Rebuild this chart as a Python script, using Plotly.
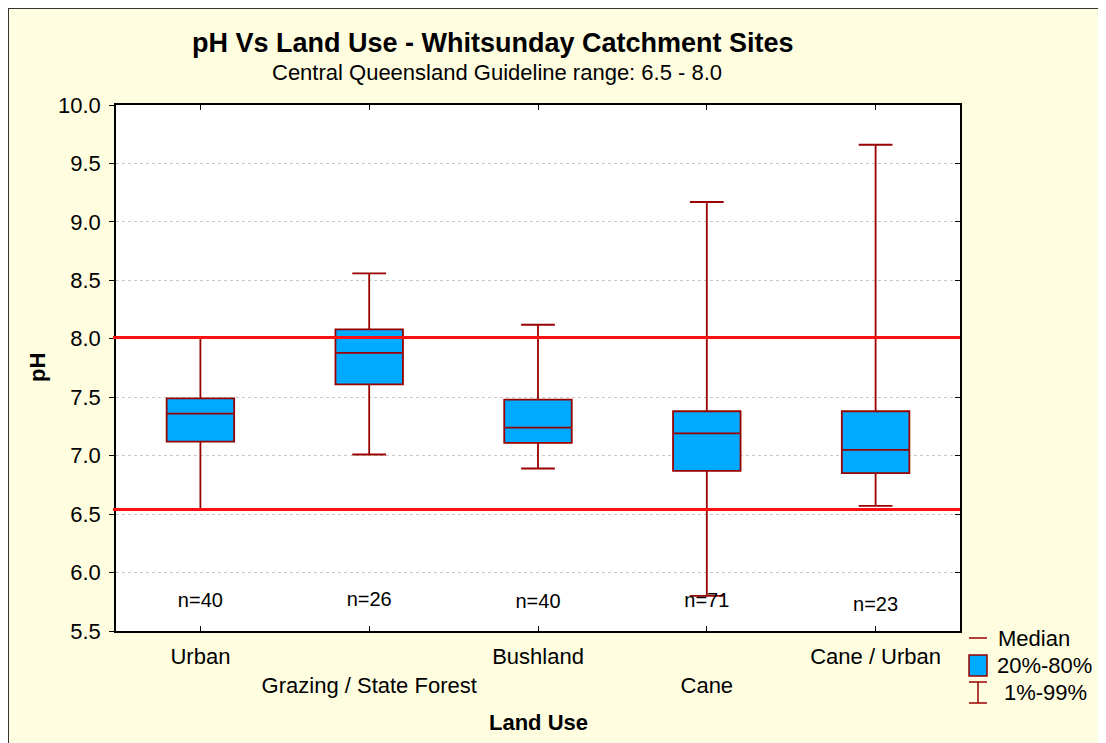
import plotly.graph_objects as go

# ---- data ----
categories = ["Urban", "Grazing / State Forest", "Bushland", "Cane", "Cane / Urban"]
p01 = [6.54, 7.01, 6.89, 5.80, 6.57]
p20 = [7.12, 7.61, 7.11, 6.87, 6.85]
median = [7.36, 7.88, 7.24, 7.19, 7.05]
p80 = [7.49, 8.08, 7.48, 7.38, 7.38]
p99 = [8.01, 8.56, 8.12, 9.17, 9.66]
n_counts = [40, 26, 40, 71, 23]
n_label_y = [5.75, 5.76, 5.74, 5.75, 5.71]
guideline_lines = [8.01, 6.54]
y_ticks = [5.5, 6.0, 6.5, 7.0, 7.5, 8.0, 8.5, 9.0, 9.5, 10.0]

PAGE_W, PAGE_H = 1106, 743
OFF = 8  # page body margin: reference pixel coords are page coords
W, H = PAGE_W - OFF, PAGE_H - OFF
L, R, T, B = 116, 960, 105, 631  # plot area in page pixels

FONT = "Liberation Sans, Arial, sans-serif"
BOX_LINE = "#990000"
BOX_FILL = "#00AAFF"
BG = "#FFFDE0"

def px(x):
    return (x - L) / (R - L)

def py(y):
    return (B - y) / (B - T)

xpos = list(range(len(categories)))
ticktext = [c if i % 2 == 0 else "<br>" + c for i, c in enumerate(categories)]

fig = go.Figure()

fig.add_trace(go.Box(
    x=xpos, q1=p20, median=median, q3=p80,
    lowerfence=p01, upperfence=p99,
    width=0.4, whiskerwidth=0.5,
    fillcolor=BOX_FILL,
    line=dict(color=BOX_LINE, width=1.8),
    boxpoints=False, showlegend=False, hoverinfo="skip",
))

fig.add_trace(go.Scatter(
    x=xpos, y=n_label_y, mode="text",
    text=[f"n={v}" for v in n_counts],
    textfont=dict(family=FONT, size=20, color="black"),
    showlegend=False, hoverinfo="skip",
))

# invisible trace to activate right-side tick axis
fig.add_trace(go.Scatter(x=[None], y=[None], yaxis="y2", showlegend=False, hoverinfo="skip"))

shapes = []
# figure border (left/top)
shapes.append(dict(type="line", xref="paper", yref="paper", x0=px(OFF), x1=px(PAGE_W), y0=py(OFF + 0.5), y1=py(OFF + 0.5),
                   line=dict(color="#333333", width=1)))
shapes.append(dict(type="line", xref="paper", yref="paper", x0=px(OFF + 0.5), x1=px(OFF + 0.5), y0=py(OFF), y1=py(PAGE_H),
                   line=dict(color="#333333", width=1)))

# guideline red lines
for g in guideline_lines:
    shapes.append(dict(type="line", xref="paper", yref="y", x0=px(113), x1=1, y0=g, y1=g,
                       line=dict(color="#FF1010", width=3), layer="above"))

# legend icons
shapes.append(dict(type="line", xref="paper", yref="paper", x0=px(969), x1=px(987), y0=py(638), y1=py(638),
                   line=dict(color=BOX_LINE, width=1.5)))
shapes.append(dict(type="rect", xref="paper", yref="paper", x0=px(969), x1=px(987), y0=py(655), y1=py(676),
                   fillcolor=BOX_FILL, line=dict(color=BOX_LINE, width=1.5)))
shapes.append(dict(type="line", xref="paper", yref="paper", x0=px(969), x1=px(987), y0=py(682), y1=py(682),
                   line=dict(color=BOX_LINE, width=1.5)))
shapes.append(dict(type="line", xref="paper", yref="paper", x0=px(969), x1=px(987), y0=py(703), y1=py(703),
                   line=dict(color=BOX_LINE, width=1.5)))
shapes.append(dict(type="line", xref="paper", yref="paper", x0=px(978), x1=px(978), y0=py(682), y1=py(703),
                   line=dict(color=BOX_LINE, width=1.5)))

annotations = [
    dict(text="<b>pH Vs Land Use - Whitsunday Catchment Sites</b>", x=px(493), y=py(43),
         font=dict(family=FONT, size=27, color="black")),
    dict(text="Central Queensland Guideline range: 6.5 - 8.0", x=px(497), y=py(72),
         font=dict(family=FONT, size=22, color="black")),
    dict(text="<b>Land Use</b>", x=px(538), y=py(722),
         font=dict(family=FONT, size=22, color="black")),
    dict(text="<b>pH</b>", x=px(37), y=py(368), textangle=-90,
         font=dict(family=FONT, size=22, color="black")),
    dict(text="Median", x=px(996), y=py(638), xanchor="left",
         font=dict(family=FONT, size=22, color="black")),
    dict(text="20%-80%", x=px(995), y=py(665), xanchor="left",
         font=dict(family=FONT, size=22, color="black")),
    dict(text="1%-99%", x=px(1002), y=py(692), xanchor="left",
         font=dict(family=FONT, size=22, color="black")),
]
for a in annotations:
    a.update(xref="paper", yref="paper", showarrow=False)
    a.setdefault("xanchor", "center")
    a.setdefault("yanchor", "middle")

fig.update_layout(
    width=W, height=H,
    margin=dict(l=L - OFF, r=PAGE_W - R, t=T - OFF, b=PAGE_H - B, pad=0),
    paper_bgcolor=BG, plot_bgcolor="white",
    font=dict(family=FONT, size=22, color="black"),
    showlegend=False,
    shapes=shapes, annotations=annotations,
    xaxis=dict(
        range=[-0.5, 4.5], tickmode="array", tickvals=xpos, ticktext=ticktext,
        ticks="inside", ticklen=5, tickcolor="black", mirror="ticks",
        showline=True, linecolor="black", linewidth=1.5,
        showgrid=False, zeroline=False, ticklabelstandoff=5,
        tickfont=dict(family=FONT, size=22, color="black"),
    ),
    yaxis=dict(
        range=[5.5, 10.0], tickmode="array", tickvals=y_ticks,
        ticktext=[f"{v:.1f}" for v in y_ticks],
        ticks="outside", ticklen=5, tickcolor="black",
        showline=True, linecolor="black", linewidth=1.5, mirror=True,
        showgrid=True, gridcolor="#C8C8C8", griddash="dot", gridwidth=1,
        zeroline=False, ticklabelstandoff=4,
        tickfont=dict(family=FONT, size=22, color="black"),
    ),
    yaxis2=dict(
        overlaying="y", side="right", matches="y", range=[5.5, 10.0],
        tickmode="array", tickvals=y_ticks, ticks="inside", ticklen=5, tickcolor="black",
        showticklabels=False, showgrid=False, zeroline=False, showline=False,
    ),
)

fig.write_html("out.html", post_script="document.body.style.overflow='hidden';")
